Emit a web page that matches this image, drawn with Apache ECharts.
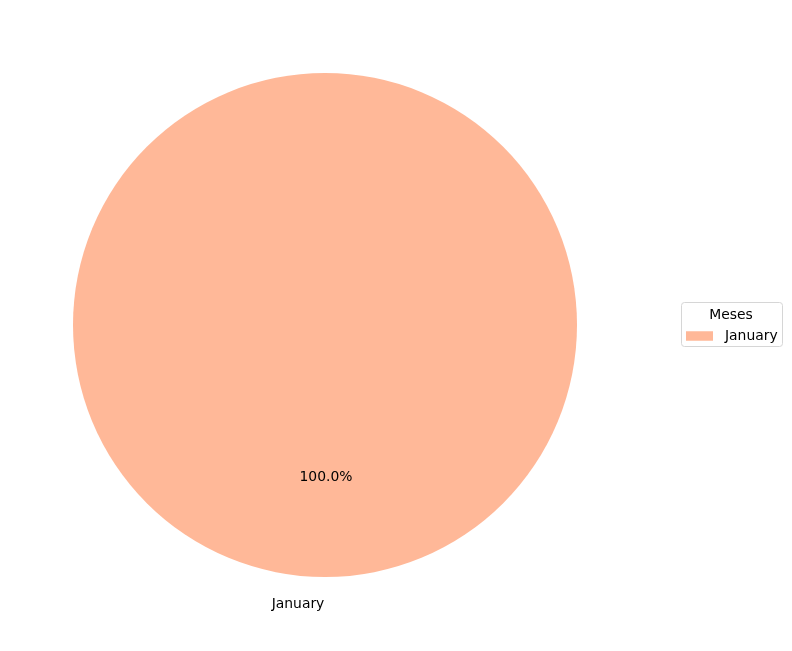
<!DOCTYPE html>
<html><head><meta charset="utf-8">
<script src="https://cdn.jsdelivr.net/npm/echarts@6/dist/echarts.min.js"></script>
<style>html,body{margin:0;padding:0;background:#fff}#c{width:792px;height:651px}</style>
</head><body><div id="c"></div>
<script>
const categories = ['January'];
const values = [1];
const legendTitle = 'Meses';
const colors = ['#FFB898'];

const total = values.reduce((a,b)=>a+b,0);
const pctLabels = values.map(v => (v/total*100).toFixed(1) + '%');
const FONT = 'DejaVu Sans';
const FS = 13.9;
const CX = 325, CY = 325, R = 252;

const chart = echarts.init(document.getElementById('c'), null, {renderer:'canvas'});
const helper = (radius, texts, extra) => ({
  type:'pie', radius:[0, radius], center:[CX, CY], startAngle:90, clockwise:false,
  silent:true, animation:false, z:3,
  itemStyle:{color:'rgba(0,0,0,0)', borderWidth:0},
  emphasis:{disabled:true},
  label:Object.assign({show:true, position:'inside', fontFamily:FONT, fontSize:FS, color:'#000',
    formatter:p => texts[p.dataIndex]}, extra||{}),
  labelLine:{show:false},
  data:values.map((v,i)=>({name:'_h'+radius+'_'+i, value:v}))
});
chart.setOption({
  backgroundColor:'#fff',
  animation:false,
  legend:{
    data:categories, left:686, top:329, padding:0, orient:'vertical',
    itemWidth:27, itemHeight:9.5, icon:'rect', selectedMode:false,
    textStyle:{fontFamily:FONT, fontSize:FS, color:'#000', padding:[0,0,0,7]}
  },
  graphic:[
    {type:'rect', shape:{x:681.5, y:302.5, width:101, height:44, r:3}, z:0,
     style:{fill:'#fff', stroke:'#d6d6d6', lineWidth:1}},
    {type:'text', x:731, y:315, z:1, style:{text:legendTitle, fontFamily:FONT, fontSize:FS, fill:'#000', align:'center', verticalAlign:'middle'}}
  ],
  series:[
    {type:'pie', radius:[0,R], center:[CX,CY], startAngle:90, clockwise:false,
     label:{show:false}, labelLine:{show:false}, silent:true,
     itemStyle:{borderWidth:0},
     data:categories.map((c,i)=>({name:c, value:values[i], itemStyle:{color:colors[i]}}))},
    helper(R*1.2, pctLabels, {offset:[1,-2]}),
    helper(R*2.2, categories, {offset:[-27,-1]})
  ]
});
</script></body></html>
